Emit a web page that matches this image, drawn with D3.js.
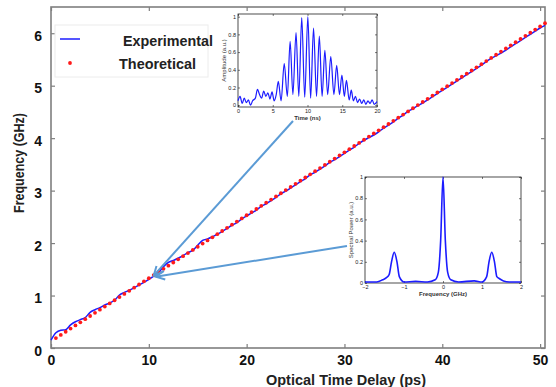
<!DOCTYPE html>
<html>
<head>
<meta charset="utf-8">
<script src="https://cdn.jsdelivr.net/npm/d3@7"></script>
<style>
  body { margin: 0; background: #fff; }
  text { font-family: "Liberation Sans", Arial, sans-serif; }
</style>
</head>
<body>
<svg id="chart" width="556" height="387"></svg>
<script>
// main chart: theoretical points (ps, GHz)
var theoryDelay = [0.5,1,1.5,2,2.5,3,3.5,4,4.5,5,5.5,6,6.5,7,7.5,8,8.5,9,9.5,10,
  10.5,11,11.5,12,12.5,13,13.5,14,14.5,15,15.5,16,16.5,17,17.5,18,18.5,19,19.5,20,
  20.5,21,21.5,22,22.5,23,23.5,24,24.5,25,25.5,26,26.5,27,27.5,28,28.5,29,29.5,30,
  30.5,31,31.5,32,32.5,33,33.5,34,34.5,35,35.5,36,36.5,37,37.5,38,38.5,39,39.5,40,
  40.5,41,41.5,42,42.5,43,43.5,44,44.5,45,45.5,46,46.5,47,47.5,48,48.5,49,49.5,50,50.5];
var theoryFreq = [0.19,0.25,0.31,0.37,0.43,0.49,0.55,0.61,0.67,0.73,
  0.79,0.85,0.91,0.97,1.03,1.09,1.15,1.21,1.27,1.33,
  1.39,1.45,1.51,1.57,1.63,1.69,1.75,1.81,1.87,1.93,
  1.99,2.05,2.11,2.17,2.23,2.29,2.35,2.41,2.47,2.53,
  2.59,2.65,2.71,2.77,2.83,2.89,2.95,3.01,3.07,3.13,
  3.19,3.25,3.31,3.37,3.43,3.49,3.55,3.61,3.67,3.73,
  3.79,3.85,3.91,3.97,4.03,4.09,4.15,4.21,4.27,4.33,
  4.39,4.45,4.51,4.57,4.63,4.69,4.75,4.81,4.87,4.93,
  4.99,5.05,5.11,5.17,5.23,5.29,5.35,5.41,5.47,5.53,
  5.59,5.65,5.71,5.77,5.83,5.89,5.95,6.01,6.07,6.13,6.19];

// main chart: experimental curve
var expDelay = [0,0.5,1,1.5,2,2.5,3,3.5,4,4.5,5,5.5,6,6.5,7,7.5,8,8.5,9,9.5,10,
  10.5,11,11.5,12,12.5,13,13.5,14,14.5,15,15.5,16,16.5,17,17.5,18,18.5,19,19.5,20,
  20.5,21,21.5,22,22.5,23,23.5,24,24.5,25,25.5,26,26.5,27,27.5,28,28.5,29,29.5,30,
  30.5,31,31.5,32,32.5,33,33.5,34,34.5,35,35.5,36,36.5,37,37.5,38,38.5,39,39.5,40,
  40.5,41,41.5,42,42.5,43,43.5,44,44.5,45,45.5,46,46.5,47,47.5,48,48.5,49,49.5,50,50.5];
var expFreq = [0.15,0.29,0.34,0.35,0.44,0.50,0.54,0.58,0.68,0.73,0.77,0.82,0.86,0.91,1.01,1.06,1.10,1.15,1.20,1.25,1.31,
  1.37,1.44,1.55,1.63,1.67,1.71,1.76,1.82,1.86,1.96,2.05,2.08,2.12,2.17,2.22,2.28,2.34,2.39,2.46,2.52,
  2.57,2.63,2.70,2.75,2.81,2.87,2.94,2.99,3.05,3.11,3.17,3.23,3.30,3.35,3.41,3.47,3.54,3.59,3.65,3.71,
  3.77,3.83,3.90,3.96,4.01,4.06,4.12,4.19,4.25,4.31,4.38,4.44,4.51,4.56,4.62,4.67,4.73,4.79,4.85,4.91,
  4.97,5.03,5.09,5.15,5.21,5.27,5.33,5.39,5.46,5.52,5.57,5.62,5.68,5.74,5.80,5.86,5.92,5.98,6.04,6.10,6.15];

var mainXTicks = [0,10,20,30,40,50];
var mainYTicks = [0,1,2,3,4,5,6];

// inset 1: time trace (ns, a.u.)
var traceTime = [0,0.3,0.6,0.9,1.2,1.5,1.8,2.1,2.5,2.8,3.1,3.4,3.7,4.0,4.3,4.6,4.9,5.2,5.5,5.8,6.2,
  6.65,7.1,7.5,7.9,8.35,8.75,9.17,9.6,10.05,10.45,10.87,11.3,11.7,12.1,12.5,12.9,13.35,13.8,14.2,14.6,14.95,15.3,15.6,16.0,
  16.3,16.6,16.9,17.2,17.5,17.8,18.1,18.4,18.7,19.0,19.3,19.6,20];
var traceAmp = [0.05,0.10,0.02,0.08,0.03,0.06,0.00,0.05,0.08,0.18,0.12,0.08,0.16,0.10,0.14,0.07,0.15,0.05,0.12,0.27,0.05,
  0.47,0.10,0.72,0.12,0.82,0.10,0.99,0.09,1.00,0.08,0.87,0.10,0.78,0.10,0.62,0.12,0.55,0.12,0.45,0.12,0.34,0.10,0.28,0.06,
  0.17,0.05,0.10,0.03,0.07,0.02,0.06,0.01,0.05,0.02,0.06,0.01,0.04];
var traceXTicks = [0,5,10,15,20];
var traceYTicks = [0,0.2,0.4,0.6,0.8,1];

// inset 2: spectrum (GHz, a.u.)
var specFreq = [-2,-1.7,-1.55,-1.45,-1.38,-1.32,-1.25,-1.18,-1.12,-1.0,-0.7,-0.4,-0.2,-0.12,-0.06,0,
  0.06,0.12,0.2,0.4,0.8,1.0,1.12,1.18,1.25,1.32,1.38,1.45,1.55,1.7,2];
var specPower = [0.01,0.01,0.03,0.05,0.08,0.20,0.29,0.20,0.06,0.01,0.015,0.01,0.03,0.10,0.40,1.0,
  0.40,0.10,0.03,0.01,0.02,0.01,0.06,0.20,0.29,0.20,0.06,0.04,0.02,0.01,0.01];
var specXTicks = [-2,-1,0,1,2];
var specYTicks = [0,0.2,0.4,0.6,0.8,1];

var svg = d3.select("#chart");
var plotLeft = 51, plotRight = 545, plotTop = 7, plotBottom = 348;

var x = d3.scaleLinear().domain([0, 50.5]).range([plotLeft, plotRight]);
var y = d3.scaleLinear().domain([0, 6.5]).range([plotBottom, plotTop]);

var axisColor = "#7f7f7f";

// frame
svg.append("rect")
  .attr("x", plotLeft).attr("y", plotTop)
  .attr("width", plotRight - plotLeft).attr("height", plotBottom - plotTop)
  .attr("fill", "none").attr("stroke", axisColor).attr("stroke-width", 1.6);

function styleAxis(g) {
  g.select(".domain").remove();
  g.selectAll(".tick line").attr("stroke", axisColor).attr("stroke-width", 1.2);
  g.selectAll(".tick text").attr("font-size", 14).attr("font-weight", "bold").attr("fill", "#111");
}

svg.append("g").attr("transform", "translate(0," + plotBottom + ")")
  .call(d3.axisBottom(x).tickValues(mainXTicks).tickSizeInner(-4).tickSizeOuter(0).tickPadding(7).tickFormat(d3.format("d")))
  .call(styleAxis);
svg.append("g").attr("transform", "translate(0," + plotTop + ")")
  .call(d3.axisTop(x).tickValues(mainXTicks).tickSizeInner(-4).tickSizeOuter(0).tickFormat(""))
  .call(styleAxis);
svg.append("g").attr("transform", "translate(" + plotLeft + ",0)")
  .call(d3.axisLeft(y).tickValues(mainYTicks).tickSizeInner(-4).tickSizeOuter(0).tickPadding(9).tickFormat(d3.format("d")))
  .call(styleAxis)
  .selectAll(".tick text").attr("dy", "0.5em");
svg.append("g").attr("transform", "translate(" + plotRight + ",0)")
  .call(d3.axisRight(y).tickValues(mainYTicks).tickSizeInner(-4).tickSizeOuter(0).tickFormat(""))
  .call(styleAxis);

// axis titles
svg.append("text")
  .attr("x", 346).attr("y", 385)
  .attr("text-anchor", "middle")
  .attr("font-size", 15).attr("font-weight", "bold").attr("fill", "#222")
  .attr("textLength", 160).attr("lengthAdjust", "spacingAndGlyphs")
  .text("Optical Time Delay (ps)");
svg.append("text")
  .attr("transform", "translate(24,163) rotate(-90)")
  .attr("text-anchor", "middle")
  .attr("font-size", 15).attr("font-weight", "bold").attr("fill", "#222")
  .attr("textLength", 100).attr("lengthAdjust", "spacingAndGlyphs")
  .text("Frequency (GHz)");

// experimental line
var expLine = d3.line()
  .x(function(d, i) { return x(expDelay[i]); })
  .y(function(d) { return y(d); })
  .curve(d3.curveMonotoneX);
svg.append("path")
  .datum(expFreq)
  .attr("d", expLine)
  .attr("fill", "none").attr("stroke", "#1c1cff").attr("stroke-width", 1.5);

// theoretical dots
svg.append("g").selectAll("circle")
  .data(theoryFreq)
  .enter().append("circle")
  .attr("cx", function(d, i) { return x(theoryDelay[i]); })
  .attr("cy", function(d) { return y(d); })
  .attr("r", 1.9)
  .attr("fill", "#ff1a1a");

// legend
var legend = svg.append("g");
legend.append("rect")
  .attr("x", 55).attr("y", 25).attr("width", 153).attr("height", 52)
  .attr("fill", "#fff").attr("stroke", "#ececec").attr("stroke-width", 1);
legend.append("line")
  .attr("x1", 60).attr("x2", 80).attr("y1", 39).attr("y2", 39)
  .attr("stroke", "#1c1cff").attr("stroke-width", 1.5);
legend.append("circle").attr("cx", 70).attr("cy", 63).attr("r", 1.9).attr("fill", "#ff1a1a");
legend.append("text")
  .attr("x", 123).attr("y", 46)
  .attr("font-size", 15).attr("font-weight", "bold").attr("fill", "#222")
  .attr("textLength", 90).attr("lengthAdjust", "spacingAndGlyphs")
  .text("Experimental");
legend.append("text")
  .attr("x", 119).attr("y", 69)
  .attr("font-size", 15).attr("font-weight", "bold").attr("fill", "#222")
  .attr("textLength", 77).attr("lengthAdjust", "spacingAndGlyphs")
  .text("Theoretical");

// small inset plots
function drawInset(box, xDom, yDom, xTicks, yTicks, xs, ys, xLabel, yLabel, lw) {
  var g = svg.append("g");
  var ix = d3.scaleLinear().domain(xDom).range([box.x0, box.x1]);
  var iy = d3.scaleLinear().domain(yDom).range([box.y1, box.y0]);
  g.append("rect")
    .attr("x", box.x0).attr("y", box.y0)
    .attr("width", box.x1 - box.x0).attr("height", box.y1 - box.y0)
    .attr("fill", "#fff").attr("stroke", "#222").attr("stroke-width", 0.8);

  function small(a) {
    a.select(".domain").remove();
    a.selectAll(".tick line").attr("stroke", "#222").attr("stroke-width", 0.6);
    a.selectAll(".tick text").attr("font-size", 5.5).attr("fill", "#222");
  }
  var fmt = d3.format("~g");
  g.append("g").attr("transform", "translate(0," + box.y1 + ")")
    .call(d3.axisBottom(ix).tickValues(xTicks).tickSizeInner(-2).tickSizeOuter(0).tickPadding(2).tickFormat(fmt))
    .call(small);
  g.append("g").attr("transform", "translate(0," + box.y0 + ")")
    .call(d3.axisTop(ix).tickValues(xTicks).tickSizeInner(-2).tickSizeOuter(0).tickFormat(""))
    .call(small);
  g.append("g").attr("transform", "translate(" + box.x0 + ",0)")
    .call(d3.axisLeft(iy).tickValues(yTicks).tickSizeInner(-2).tickSizeOuter(0).tickPadding(2).tickFormat(fmt))
    .call(small);
  g.append("g").attr("transform", "translate(" + box.x1 + ",0)")
    .call(d3.axisRight(iy).tickValues(yTicks).tickSizeInner(-2).tickSizeOuter(0).tickFormat(""))
    .call(small);

  var line = d3.line()
    .x(function(d, i) { return ix(xs[i]); })
    .y(function(d) { return iy(d); })
    .curve(d3.curveMonotoneX);
  g.append("path").datum(ys).attr("d", line)
    .attr("fill", "none").attr("stroke", "#1c1cff").attr("stroke-width", lw);

  g.append("text")
    .attr("x", (box.x0 + box.x1) / 2).attr("y", box.y1 + 13)
    .attr("text-anchor", "middle").attr("font-size", 6).attr("font-weight", "bold").attr("fill", "#333")
    .text(xLabel);
  g.append("text")
    .attr("transform", "translate(" + (box.x0 - 12) + "," + ((box.y0 + box.y1) / 2) + ") rotate(-90)")
    .attr("text-anchor", "middle").attr("font-size", 6).attr("fill", "#333")
    .text(yLabel);
}

drawInset({x0: 238, x1: 377, y0: 14, y1: 107}, [0, 20], [-0.02, 1.03], traceXTicks, traceYTicks,
  traceTime, traceAmp, "Time (ns)", "Amplitude (a.u.)", 1.2);
drawInset({x0: 365, x1: 521, y0: 177, y1: 283}, [-2, 2], [0, 1], specXTicks, specYTicks,
  specFreq, specPower, "Frequency (GHz)", "Spectral Power (a.u.)", 1.6);

// arrows pointing from the insets to the curve
var arrowColor = "#5b9bd5";
function arrow(x1, y1, x2, y2) {
  var ang = Math.atan2(y2 - y1, x2 - x1), len = 10, spread = 0.45;
  svg.append("line")
    .attr("x1", x1).attr("y1", y1).attr("x2", x2).attr("y2", y2)
    .attr("stroke", arrowColor).attr("stroke-width", 2);
  svg.append("path")
    .attr("d", "M" + (x2 - len * Math.cos(ang - spread)) + "," + (y2 - len * Math.sin(ang - spread)) +
      "L" + x2 + "," + y2 +
      "L" + (x2 - len * Math.cos(ang + spread)) + "," + (y2 - len * Math.sin(ang + spread)))
    .attr("fill", "none").attr("stroke", arrowColor).attr("stroke-width", 2)
    .attr("stroke-linejoin", "miter");
}
arrow(293, 121, x(10.5), y(1.4) + 1);
arrow(347, 246, x(10.7), y(1.36));
</script>
</body>
</html>
